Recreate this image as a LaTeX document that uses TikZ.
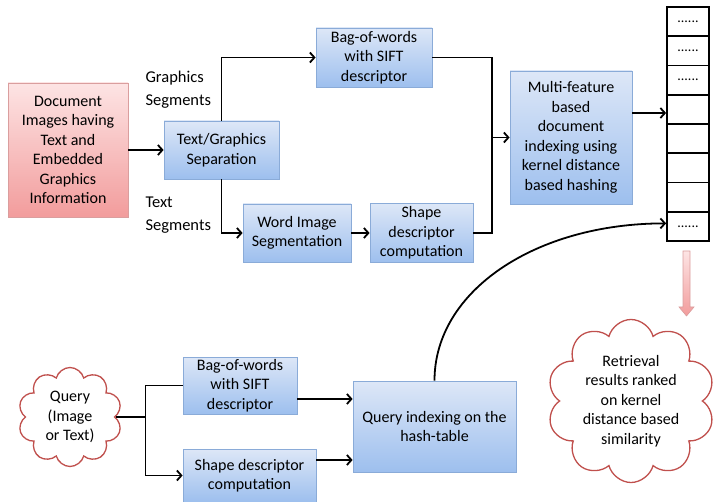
\documentclass[tikz,border=0pt]{standalone}
\usepackage{fontspec}
\setmainfont{Carlito}
\usetikzlibrary{arrows.meta,shapes.symbols,calc}
\definecolor{blueT}{HTML}{DDE7F7}
\definecolor{blueB}{HTML}{9DBFEE}
\definecolor{blueD}{HTML}{8AABD8}
\definecolor{redT}{HTML}{FDE4E4}
\definecolor{redB}{HTML}{F29C9C}
\definecolor{redD}{HTML}{DA9E9E}
\definecolor{cloudD}{HTML}{C0504D}
\begin{document}
\begin{tikzpicture}[x=1pt,y=-1pt,
  font=\fontsize{16}{19.5}\selectfont,
  box/.style={draw=blueD, line width=0.8pt, top color=blueT, bottom color=blueB, align=center, inner sep=0pt},
  redbox/.style={draw=redD, line width=0.8pt, top color=redT, bottom color=redB, align=center, inner sep=0pt},
  cell/.style={draw, line width=1.8pt, minimum width=42pt, minimum height=29.25pt, inner sep=0pt, font=\fontsize{14}{14}\selectfont},
  conn/.style={line width=1.8pt},
  arr/.style={line width=1.8pt, -{Straight Barb[length=4.5pt,width=10pt]}},
  cloudbox/.style={cloud, draw=cloudD, fill=white, line width=1.3pt, cloud puffs=10, cloud ignores aspect, inner sep=0pt, align=center},
  seglabel/.style={anchor=west, align=left, font=\fontsize{16.5}{23}\selectfont}]
\useasboundingbox (0,0) rectangle (717,502);

% boxes
\node[redbox, minimum width=120pt, minimum height=134pt] (doc) at (68,150) {Document\\Images having\\Text and\\Embedded\\Graphics\\Information};
\node[box, minimum width=115pt, minimum height=58pt] (tgs) at (221.5,150) {Text/Graphics\\Separation};
\node[box, minimum width=116pt, minimum height=59pt] (bow1) at (374,57.5) {Bag-of-words\\with SIFT\\descriptor};
\node[box, minimum width=108pt, minimum height=58pt] (wis) at (297,233) {Word Image\\Segmentation};
\node[box, minimum width=103pt, minimum height=59pt] (sdc1) at (421.5,233) {Shape\\descriptor\\computation};
\node[box, minimum width=122pt, minimum height=133pt] (mf) at (571,137.5) {Multi-feature\\based\\document\\indexing using\\kernel distance\\based hashing};

% hash table
\node[cell] (c1) at (688,21.6) {......};
\node[cell] (c2) at (688,50.9) {......};
\node[cell] (c3) at (688,80.1) {......};
\node[cell] (c4) at (688,109.4) {};
\node[cell] (c5) at (688,138.6) {};
\node[cell] (c6) at (688,167.9) {};
\node[cell] (c7) at (688,197.1) {};
\node[cell] (c8) at (688,226.4) {......};

% bottom part
\node[box, minimum width=114pt, minimum height=57pt] (bow2) at (240,385.5) {Bag-of-words\\with SIFT\\descriptor};
\node[box, minimum width=133pt, minimum height=53pt] (sdc2) at (249.5,475.5) {Shape descriptor\\computation};
\node[box, minimum width=163pt, minimum height=91pt] (qi) at (434.5,426.5) {Query indexing on the\\hash-table};
\node[cloudbox, minimum width=104pt, minimum height=99pt] (q) at (70,417) {Query\\(Image\\or Text)};
\node[cloudbox, minimum width=168pt, minimum height=163pt] (ret) at (631,401) {Retrieval\\results ranked\\on kernel\\distance based\\similarity};

% labels
\node[seglabel] (gs) at (142,89.5) {Graphics\\Segments};
\node[seglabel] (ts) at (142,215) {Text\\Segments};

% connectors
\draw[arr] (doc.east) -- (tgs.west);
\draw[arr] (tgs.north) |- (bow1.west);
\draw[arr] (tgs.south) |- (wis.west);
\draw[arr] (wis.east) -- (sdc1.west);
\coordinate (j) at ($(mf.west)+(-18,0)$);
\draw[conn] (bow1.east) -| (j);
\draw[conn] (sdc1.east) -| (j);
\draw[arr] (j) -- (mf.west);
\draw[arr] (mf.east |- 0,113) -- (c4.west |- 0,113);
\draw[arr] (qi.north) .. controls +(0,-90) and +(-130,0) .. ([yshift=3pt]c8.west);

\coordinate (k) at ($(q.east)+(30,0)$);
\draw[conn] (q.east) -- (k);
\draw[conn] (k) |- (bow2.west);
\draw[arr] (k) |- (sdc2.west);
\draw[arr] ([yshift=-13.5pt]bow2.east) -- ([yshift=-13.5pt]bow2.east -| qi.west);
\draw[arr] ([yshift=15.5pt]sdc2.east) -- ([yshift=15.5pt]sdc2.east -| qi.west);

% pink arrow
\path[draw=redD, line width=0.6pt, top color=redT, bottom color=redB]
  (683,251) -- (690,251) -- (690,307) -- (694,307) -- (686.5,316) -- (679,307) -- (683,307) -- cycle;
\end{tikzpicture}
\end{document}
